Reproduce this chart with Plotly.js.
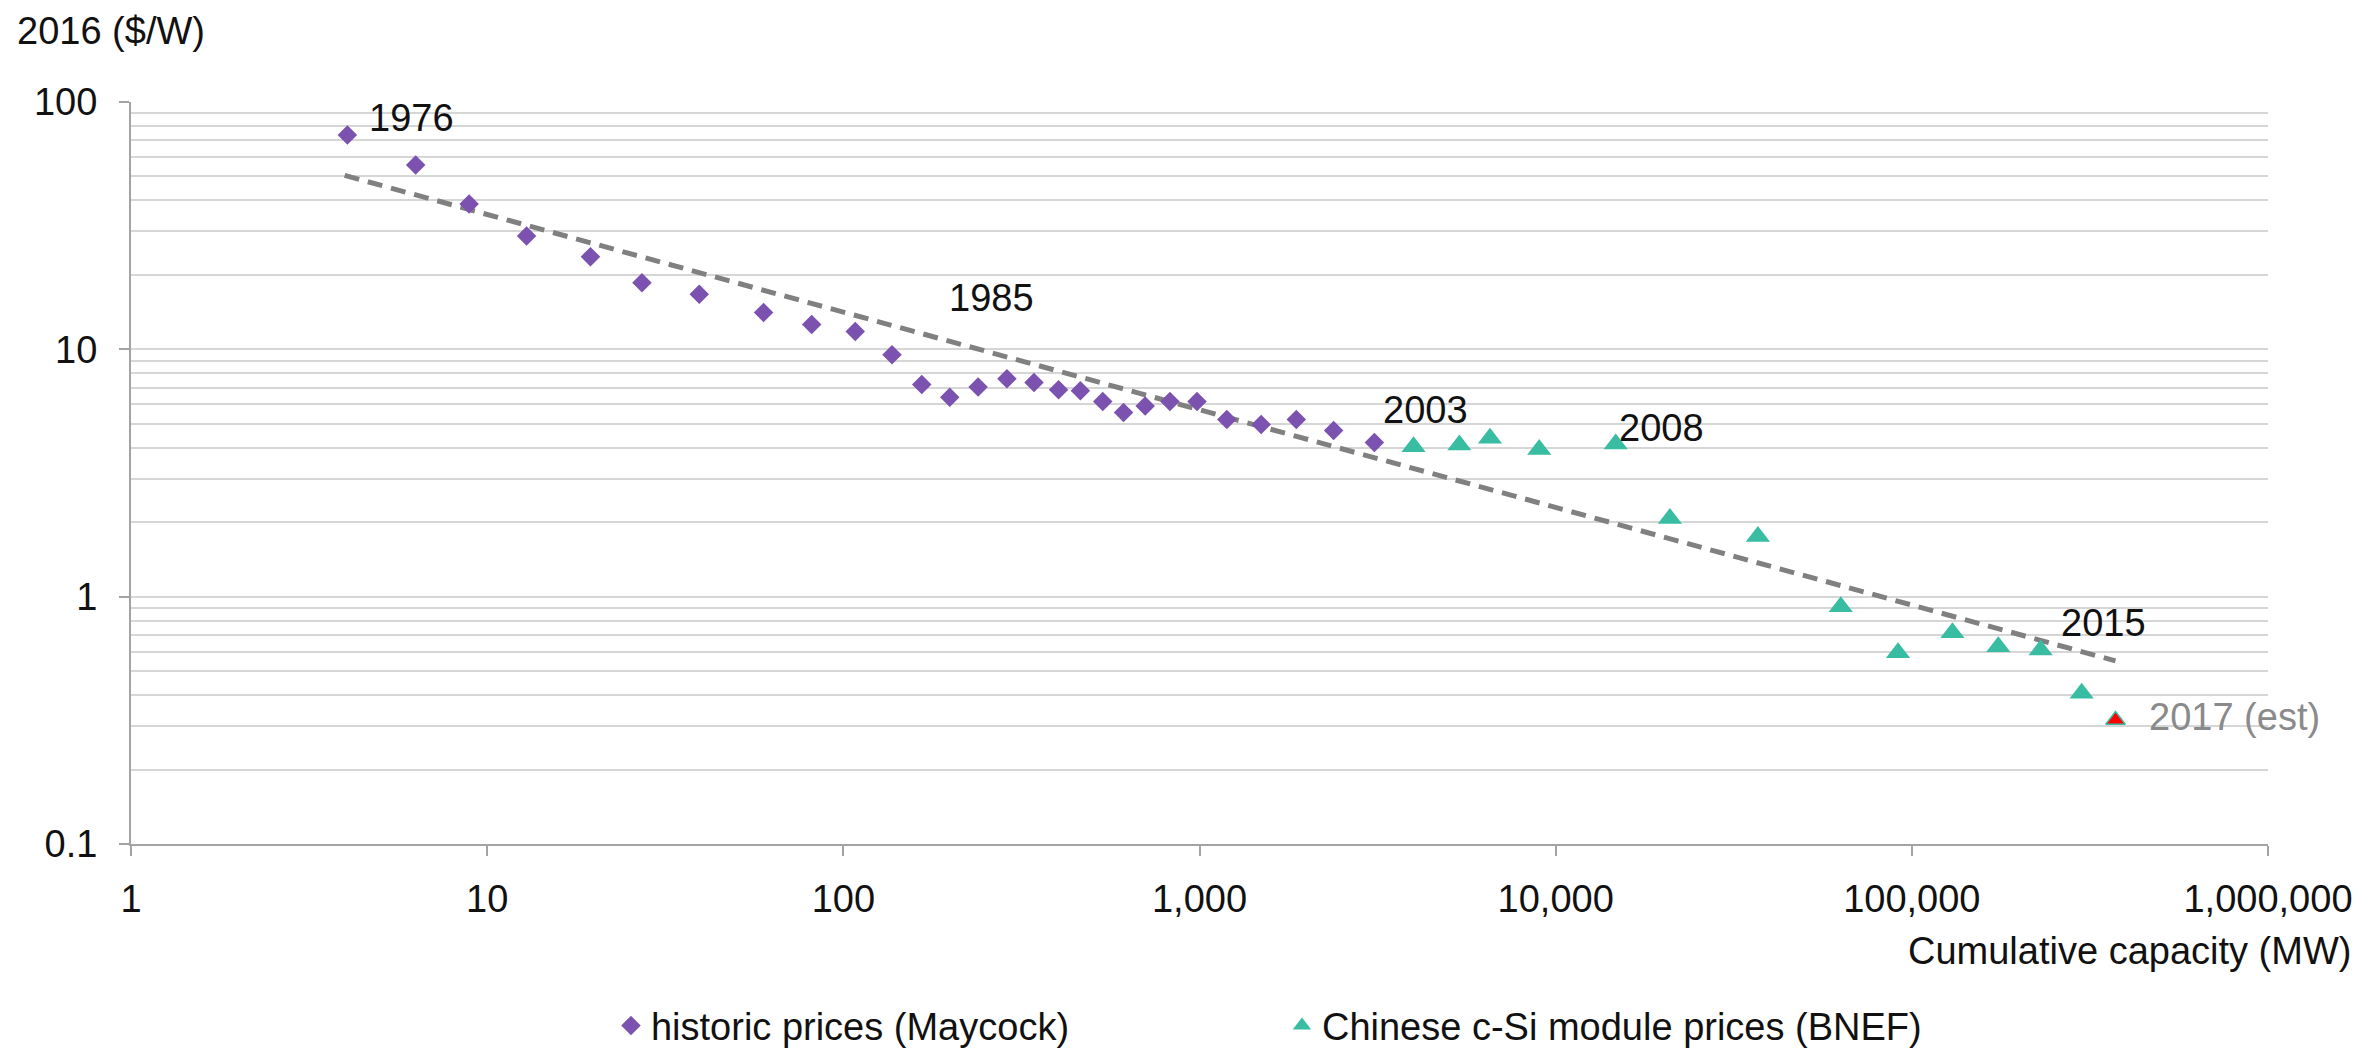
<!DOCTYPE html>
<html>
<head>
<meta charset="utf-8">
<script src="https://cdn.plot.ly/plotly-3.0.1.min.js"></script>
<style>
  html, body { margin: 0; padding: 0; background: #ffffff; }
  #chart { width: 2375px; height: 1048px; }
</style>
</head>
<body>
<div id="chart"></div>
<script>
// ---- Data ----
// Historic prices (Maycock), 1976-2003: cumulative capacity (MW) and 2016 $/W
var maycockCapacity = [4.05, 6.3, 8.9, 12.9, 19.5, 27.2, 39.4, 59.7, 81.5, 108,
                       137, 166, 199, 239, 288, 343, 402, 463, 535, 612,
                       704, 826, 984, 1193, 1490, 1870, 2380, 3097];
var maycockPrice    = [73.5, 55.6, 38.7, 28.7, 23.7, 18.6, 16.7, 14.1, 12.6, 11.8,
                       9.5, 7.2, 6.4, 7.05, 7.6, 7.35, 6.87, 6.8, 6.15, 5.55,
                       5.9, 6.15, 6.15, 5.2, 4.97, 5.2, 4.7, 4.2];
// Chinese c-Si module prices (BNEF), 2004-2016
var bnefCapacity = [3990, 5366, 6540, 8990, 14740, 20930, 36970, 63170,
                    91460, 130000, 174900, 229900, 299800];
var bnefPrice    = [4.04, 4.10, 4.37, 3.94, 4.14, 2.07, 1.75, 0.91,
                    0.593, 0.714, 0.627, 0.608, 0.407];
// 2017 estimate
var estCapacity = [373200];
var estPrice    = [0.317];
// Experience-curve trend line (end points)
var trendCapacity = [3.98, 373000];
var trendPrice    = [50.5, 0.55];

// Year labels: which series / point they belong to
var labelText   = ['1976', '1985', '2003', '2008', '2015', '2017 (est)'];
var labelSeries = ['maycock', 'maycock', 'maycock', 'bnef', 'bnef', 'est'];
var labelIndex  = [0, 9, 27, 4, 11, 0];

// Axis ticks
var xTickVals = [1, 10, 100, 1000, 10000, 100000, 1000000];
var xTickText = ['1', '10', '100', '1,000', '10,000', '100,000', '1,000,000'];
var yTickVals = [0.1, 1, 10, 100];
var yTickText = ['0.1', '1', '10', '100'];
var yMinorVals = [0.2, 0.3, 0.4, 0.5, 0.6, 0.7, 0.8, 0.9,
                  2, 3, 4, 5, 6, 7, 8, 9,
                  20, 30, 40, 50, 60, 70, 80, 90];

var seriesNames = ['historic prices (Maycock)', 'Chinese c-Si module prices (BNEF)'];
var yTitle = '2016 ($/W)';
var xTitle = 'Cumulative capacity (MW)';

// ---- Styling ----
var FONT = 'Liberation Sans, Arial, Helvetica, sans-serif';
var FS = 38;
var purple = '#7b52b0';
var teal = '#38bca2';
var gridColor = '#d6d6d6';
var axisColor = '#a3a3a3';

var traces = [
  {
    x: trendCapacity, y: trendPrice, type: 'scatter', mode: 'lines',
    line: { color: '#808080', width: 5, dash: '15px,9px' },
    showlegend: false, hoverinfo: 'skip'
  },
  {
    x: maycockCapacity, y: maycockPrice, type: 'scatter', mode: 'markers',
    name: seriesNames[0],
    marker: { symbol: 'diamond', size: 15, color: purple }
  },
  {
    x: bnefCapacity, y: bnefPrice, type: 'scatter', mode: 'markers',
    name: seriesNames[1],
    marker: { symbol: 'triangle-up', size: 21, color: teal }
  },
  {
    x: estCapacity, y: estPrice, type: 'scatter', mode: 'markers',
    name: '2017 (est)', showlegend: false,
    marker: { symbol: 'triangle-up', size: 17, color: '#ff0000', line: { color: teal, width: 1.5 } }
  }
];

var seriesLookup = {
  maycock: [maycockCapacity, maycockPrice],
  bnef: [bnefCapacity, bnefPrice],
  est: [estCapacity, estPrice]
};
// offsets of label centre from the point (px)
var labelShiftX = [64, 136, 51, 46, 63, 31];
var labelShiftY = [17, 34, 33, 16, 27, 3];
var labelAnchor = ['center', 'center', 'center', 'center', 'center', 'left'];
var labelColor  = ['#111', '#111', '#111', '#111', '#111', '#8a8a8a'];

var annotations = [];
for (var i = 0; i < labelText.length; i++) {
  var s = seriesLookup[labelSeries[i]];
  annotations.push({
    x: Math.log10(s[0][labelIndex[i]]),
    y: Math.log10(s[1][labelIndex[i]]),
    xref: 'x', yref: 'y',
    text: labelText[i], showarrow: false,
    xanchor: labelAnchor[i], yanchor: 'middle',
    xshift: labelShiftX[i], yshift: labelShiftY[i],
    font: { family: FONT, size: FS, color: labelColor[i] }
  });
}
annotations.push({
  xref: 'paper', yref: 'paper', x: 0, y: 1,
  xanchor: 'left', yanchor: 'middle', xshift: -116, yshift: 71,
  text: yTitle, showarrow: false,
  font: { family: FONT, size: FS, color: '#111' }
});
annotations.push({
  xref: 'paper', yref: 'paper', x: 1, y: 0,
  xanchor: 'right', yanchor: 'middle', xshift: 85, yshift: -107,
  text: xTitle, showarrow: false,
  font: { family: FONT, size: FS, color: '#111' }
});

var layout = {
  width: 2375, height: 1048,
  margin: { l: 131, r: 107, t: 102, b: 204, pad: 0, autoexpand: false },
  paper_bgcolor: '#ffffff', plot_bgcolor: '#ffffff',
  font: { family: FONT, size: FS, color: '#111' },
  showlegend: true,
  legend: {
    orientation: 'h', x: 0.2246, xanchor: 'left', y: -0.245, yanchor: 'middle',
    font: { family: FONT, size: FS, color: '#111' },
    entrywidth: 626, entrywidthmode: 'pixels',
    bgcolor: 'rgba(0,0,0,0)'
  },
  xaxis: {
    type: 'log', range: [0, 6],
    tickmode: 'array', tickvals: xTickVals, ticktext: xTickText,
    showgrid: false, zeroline: false,
    showline: true, linecolor: axisColor, linewidth: 2,
    ticks: 'outside', ticklen: 10, tickwidth: 2, tickcolor: axisColor,
    ticklabelstandoff: 10,
    tickfont: { family: FONT, size: FS, color: '#111' }
  },
  yaxis: {
    type: 'log', range: [-1, 2],
    tickmode: 'array', tickvals: yTickVals, ticktext: yTickText,
    showgrid: true, gridcolor: gridColor, gridwidth: 2,
    zeroline: false,
    showline: true, linecolor: axisColor, linewidth: 2,
    ticks: 'outside', ticklen: 10, tickwidth: 2, tickcolor: axisColor,
    ticklabelstandoff: 14,
    tickfont: { family: FONT, size: FS, color: '#111' },
    minor: { tickmode: 'array', tickvals: yMinorVals, showgrid: true,
             gridcolor: gridColor, gridwidth: 2, ticks: '' }
  },
  annotations: annotations
};

Plotly.newPlot('chart', traces, layout, { staticPlot: true, displayModeBar: false });
</script>
</body>
</html>
